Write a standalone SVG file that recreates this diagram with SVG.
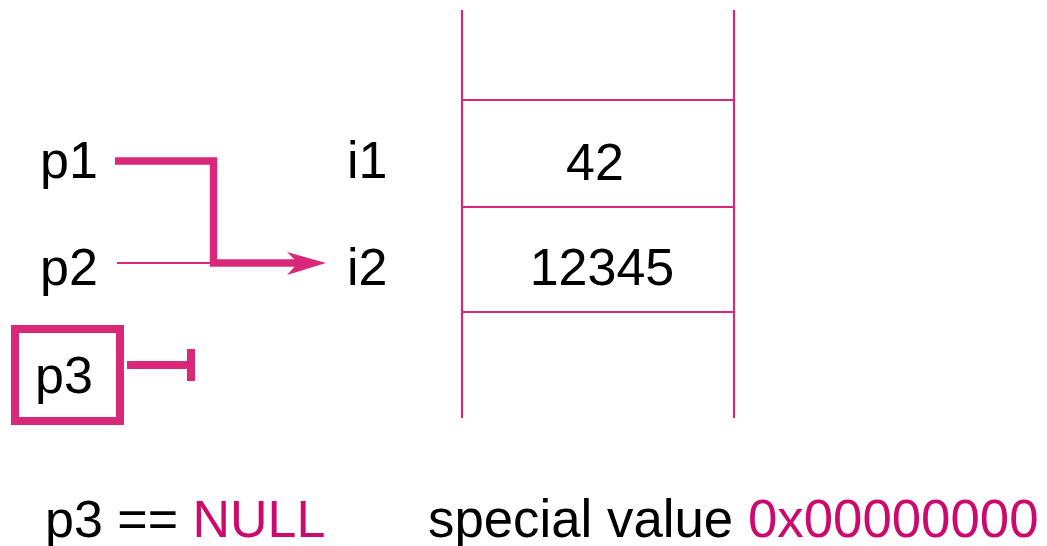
<svg xmlns="http://www.w3.org/2000/svg" width="1047" height="546" viewBox="0 0 1047 546">
<style>
text{font-family:"Liberation Sans",Arial,sans-serif;font-size:52px;fill:#000}
.pk{fill:#cc0a6e}
.ln{stroke:#d9287a;fill:none}
</style>
<rect width="1047" height="546" fill="#fff"/>
<g id="memory">
<line class="ln" stroke-width="2.2" x1="462" y1="10" x2="462" y2="418"/>
<line class="ln" stroke-width="2.2" x1="734" y1="10" x2="734" y2="418"/>
<line class="ln" stroke-width="2.2" x1="462" y1="100" x2="734" y2="100"/>
<line class="ln" stroke-width="2.2" x1="462" y1="207" x2="734" y2="207"/>
<line class="ln" stroke-width="2.2" x1="462" y1="312" x2="734" y2="312"/>
</g>
<g id="cell-i1"><text x="347" y="178">i1</text><text x="595" y="180" text-anchor="middle">42</text></g>
<g id="cell-i2"><text x="347" y="285">i2</text><text x="602" y="285" text-anchor="middle">12345</text></g>
<g id="p1"><text x="40" y="178">p1</text></g>
<g id="p2"><text x="40" y="285">p2</text></g>
<g id="p3"><rect class="ln" stroke-width="8" x="15" y="329" width="105" height="92"/><text x="35" y="393">p3</text></g>
<g id="connectors">
<line class="ln" stroke-width="2.2" x1="117" y1="263" x2="212" y2="263"/>
<path class="ln" stroke-width="7.5" d="M115 161 H213.5 V263 H300"/>
<polygon fill="#d9287a" points="287,252 326,263 287,275 298,263"/>
<line class="ln" stroke-width="8" x1="127" y1="365" x2="191" y2="365"/>
<line class="ln" stroke-width="8" x1="191" y1="349" x2="191" y2="381"/>
</g>
<g id="captions">
<text x="45" y="537">p3 == <tspan class="pk">NULL</tspan></text>
<text x="428" y="537" style="font-size:52.8px">special value <tspan class="pk">0x00000000</tspan></text>
</g>
</svg>
